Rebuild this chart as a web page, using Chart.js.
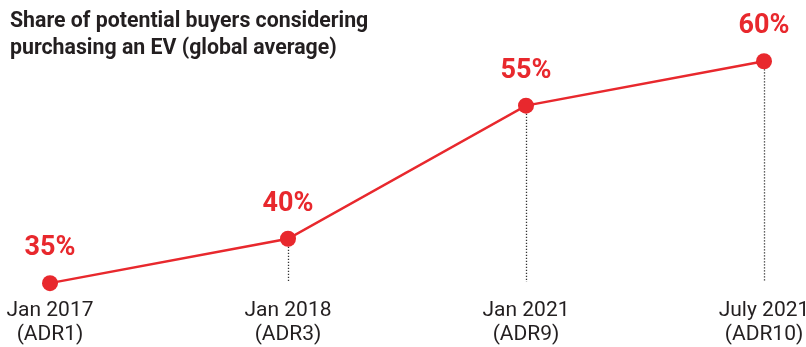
<!DOCTYPE html>
<html>
<head>
<meta charset="utf-8">
<script src="https://cdn.jsdelivr.net/npm/chart.js@4/dist/chart.umd.min.js"></script>
<style>
  html, body { margin: 0; padding: 0; background: #ffffff; }
  #wrap { position: relative; width: 806px; height: 347px; }
  #title {
    position: absolute; left: 10px; top: 6px;
    font-family: Roboto, "Noto Sans", sans-serif; font-weight: 700;
    font-size: 21.3px; line-height: 27px; color: #231f20;
  }
  canvas { position: absolute; left: 0; top: 0; }
</style>
</head>
<body>
<div id="wrap">
  <canvas id="chart" width="806" height="347"></canvas>
  <div id="title">Share of potential buyers considering<br>purchasing an EV (global average)</div>
</div>
<script>
// Survey waves and the share of buyers considering an EV
const waves = [["Jan 2017", "(ADR1)"], ["Jan 2018", "(ADR3)"], ["Jan 2021", "(ADR9)"], ["July 2021", "(ADR10)"]];
const shares = [35, 40, 55, 60];

const RED = "#e8282d";

// Dotted drop lines from each point down toward its axis label, plus value labels
const annotate = {
  id: "annotate",
  beforeDatasetsDraw(chart) {
    const { ctx, chartArea } = chart;
    const meta = chart.getDatasetMeta(0);
    ctx.save();
    ctx.strokeStyle = "#333333";
    ctx.lineWidth = 1.3;
    ctx.setLineDash([1.3, 1.7]);
    meta.data.forEach((pt) => {
      const bottom = chartArea.bottom - 10;
      if (pt.y + 8 < bottom) {
        ctx.beginPath();
        ctx.moveTo(Math.round(pt.x) + 0.5, pt.y + 8);
        ctx.lineTo(Math.round(pt.x) + 0.5, bottom);
        ctx.stroke();
      }
    });
    ctx.restore();
  },
  afterDatasetsDraw(chart) {
    const { ctx } = chart;
    const meta = chart.getDatasetMeta(0);
    ctx.save();
    ctx.fillStyle = RED;
    ctx.font = "bold 27px Roboto, 'Noto Sans', sans-serif";
    ctx.textAlign = "center";
    ctx.textBaseline = "alphabetic";
    meta.data.forEach((pt, i) => {
      ctx.fillText(shares[i] + "%", pt.x, pt.y - 28);
    });
    ctx.restore();
  }
};

new Chart(document.getElementById("chart"), {
  type: "line",
  data: {
    labels: waves,
    datasets: [{
      data: shares,
      borderColor: RED,
      backgroundColor: RED,
      borderWidth: 2.5,
      pointRadius: 8,
      pointHoverRadius: 8,
      pointBackgroundColor: RED,
      pointBorderWidth: 0,
      tension: 0,
      clip: false
    }]
  },
  options: {
    responsive: false,
    animation: false,
    events: [],
    layout: { padding: { top: 2, left: 50, right: 42, bottom: 0 } },
    plugins: { legend: { display: false }, tooltip: { enabled: false } },
    scales: {
      x: {
        offset: false,
        grid: { display: false, drawTicks: false },
        border: { display: false },
        ticks: {
          color: "#231f20",
          font: { family: "Roboto, 'Noto Sans', sans-serif", size: 21, lineHeight: 1.15 },
          padding: 7,
          maxRotation: 0,
          autoSkip: false
        },
        afterFit(scale) {
          scale.height = 55;
          scale.paddingLeft = 0;
          scale.paddingRight = 0;
        }
      },
      y: {
        display: false,
        min: 34,
        max: 66
      }
    }
  },
  plugins: [annotate]
});
</script>
</body>
</html>
